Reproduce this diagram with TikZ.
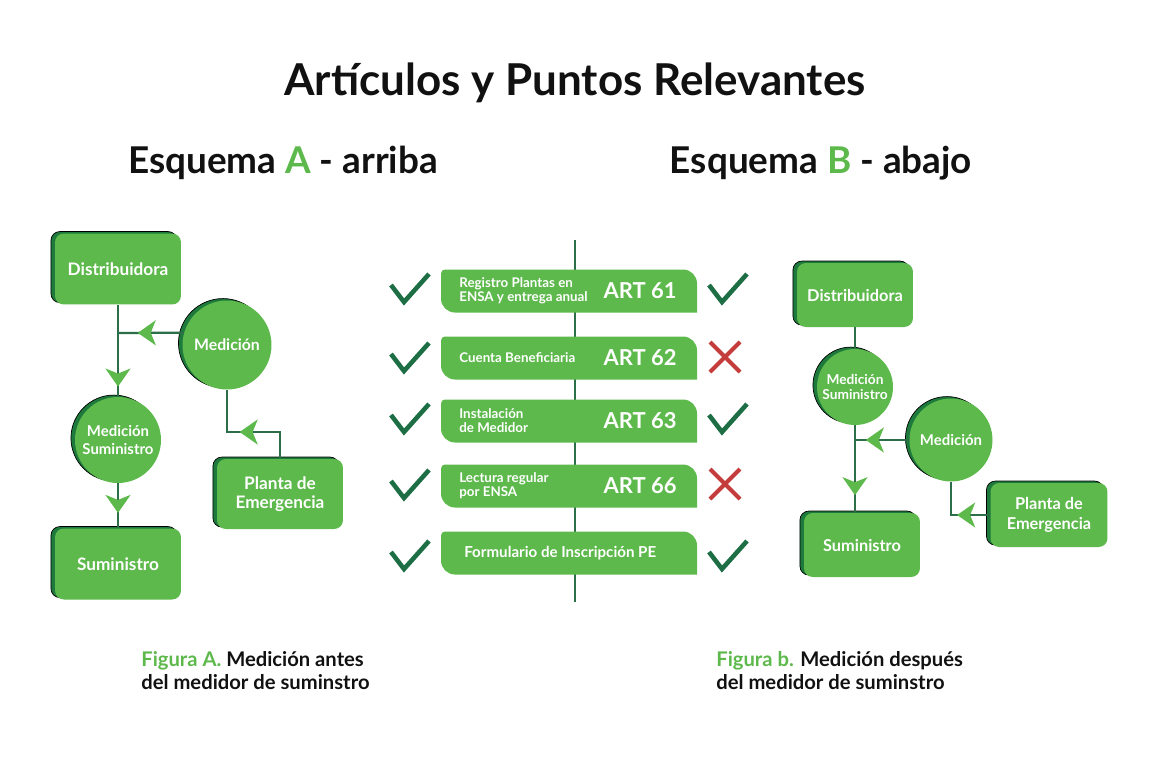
\documentclass[tikz,border=0pt]{standalone}
\usepackage{fontspec}
\setmainfont{Lato}
\usetikzlibrary{shapes, arrows.meta, shadows, decorations.markings}
\definecolor{verde}{HTML}{5DB94B}
\definecolor{sombra}{HTML}{1E7A3C}
\definecolor{linea}{HTML}{2B6E48}
\definecolor{verdeoscuro}{HTML}{1E6E45}
\definecolor{rojo}{HTML}{C43C3C}
\definecolor{negro}{HTML}{111111}
\tikzstyle{caja} = [rectangle, fill=verde, rounded corners=5pt, text=white, align=center, font=\bfseries\fontsize{9.8}{11}\selectfont, copy shadow={shadow xshift=-2.3pt, shadow yshift=1.1pt, fill=sombra}]
\tikzstyle{medidor} = [circle, fill=verde, text=white, align=center, inner sep=0pt, font=\bfseries\fontsize{8.5}{10}\selectfont, copy shadow={shadow xshift=-2.3pt, shadow yshift=1.1pt, fill=sombra}]
\tikzstyle{conector} = [draw=linea, line width=1.3pt]
\tikzstyle{titulo} = [anchor=base, text=negro, font=\bfseries\fontsize{25}{30}\selectfont]
\tikzstyle{subtitulo} = [anchor=base, text=negro, font=\bfseries\fontsize{21}{25}\selectfont]
\tikzstyle{textofila} = [anchor=west, text=white, align=left, inner sep=0pt, font=\bfseries\fontsize{7.6}{8}\selectfont]
\tikzstyle{articulo} = [text=white, inner sep=0pt, font=\bfseries\fontsize{12.5}{14}\selectfont]
\tikzstyle{pie} = [anchor=north west, text=negro, align=left, inner sep=0pt, font=\bfseries\fontsize{11.5}{13.2}\selectfont]
\tikzset{
  flecha/.style={postaction={decorate, decoration={markings, mark=at position #1 with {\arrow{Stealth[length=0.36cm, width=0.5cm, inset=0.1cm, color=verde]}}}}},
  visto/.pic={\draw[verdeoscuro, line width=2.6pt] (-19,-3) -- (-6,14) -- (19,-14);},
  tache/.pic={\draw[rojo, line width=2.3pt] (-15,-15) -- (15,15) (15,-15) -- (-15,15);}
}

\begin{document}
\begin{tikzpicture}[x=0.02cm, y=-0.02cm]
    \useasboundingbox (0,0) rectangle (1150,768);
    \node [titulo] (titulo) at (575,95) {Artículos y Puntos Relevantes};
    \node [subtitulo] (esqA) at (283,173) {Esquema \textcolor{verde}{A} - arriba};
    \node [subtitulo] (esqB) at (821,173) {Esquema \textcolor{verde}{B} - abajo};

    % esquema A
    \node [caja, minimum width=2.52cm, minimum height=1.42cm] (distA) at (118,269) {Distribuidora};
    \node [medidor, minimum size=1.78cm, font=\bfseries\fontsize{9}{10}\selectfont] (medA) at (227,345) {Medición};
    \node [medidor, minimum size=1.72cm] (msA) at (118,440) {Medición\\Suministro};
    \node [caja, minimum width=2.52cm, minimum height=1.42cm] (sumA) at (118,564) {Suministro};
    \node [caja, minimum width=2.52cm, minimum height=1.40cm] (plA) at (280,494) {Planta de\\Emergencia};
    \coordinate (unionA) at (118,333);
    \coordinate (codoA) at (227,432);

    \path [conector, flecha=0.89] (distA) -- (msA);
    \path [conector, flecha=0.7] (medA.164) -- (unionA);
    \path [conector, flecha=0.66] (msA) -- (sumA);
    \path [conector, flecha=1.34cm] (plA.north) |- (codoA) -- (medA.south);

    % articulos
    \coordinate (ejeArriba) at (575,240);
    \coordinate (ejeAbajo) at (575,602);
    \path [conector] (ejeArriba) -- (ejeAbajo);
    \foreach \y in {291,358,421,486,553}
        \fill [verde] (445,\y-21.5) -- (683,\y-21.5) arc[start angle=90, end angle=0, radius=0.28cm]
            -- (697,\y+21.5) -- (455,\y+21.5) arc[start angle=270, end angle=180, radius=0.28cm]
            -- (441,\y-17.5) arc[start angle=180, end angle=90, radius=0.08cm] -- cycle;
    \foreach \y/\txt/\art [count=\i] in {291/{Registro Plantas en\\ENSA y entrega anual}/ART 61,
        358/{Cuenta Beneficiaria}/ART 62, 421/{Instalación\\de Medidor}/ART 63, 486/{Lectura regular\\por ENSA}/ART 66} {
        \node [textofila] (txt\i) at (459,\y) {\txt};
        \node [articulo] (art\i) at (640,\y) {\art};
    }
    \node [textofila, font=\bfseries\fontsize{8.6}{10}\selectfont] (txt5) at (464,553) {Formulario de Inscripción PE};
    \foreach \y in {288,357,418,484,555}
        \pic at (410,\y) {visto};
    \pic at (728,288) {visto};
    \pic at (725,357) {tache};
    \pic at (728,418) {visto};
    \pic at (725,484) {tache};
    \pic at (728,555) {visto};

    % esquema B
    \node [caja, minimum width=2.32cm, minimum height=1.28cm, font=\bfseries\fontsize{9.3}{11}\selectfont] (distB) at (855,295) {Distribuidora};
    \node [medidor, minimum size=1.52cm, font=\bfseries\fontsize{7.8}{9}\selectfont] (msB) at (855,387) {Medición\\Suministro};
    \node [medidor, minimum size=1.66cm] (medB) at (951,440) {Medición};
    \node [caja, minimum width=2.32cm, minimum height=1.28cm, font=\bfseries\fontsize{9.3}{11}\selectfont] (sumB) at (862,545) {Suministro};
    \node [caja, minimum width=2.34cm, minimum height=1.28cm, font=\bfseries\fontsize{9.3}{11}\selectfont] (plB) at (1049,515) {Planta de\\Emergencia};
    \coordinate (unionB) at (855,440);

    \path [conector] (distB) -- (msB);
    \path [conector, flecha=0.8] (msB) -- (msB |- sumB.north);
    \path [conector, flecha=0.8] (medB.west) -- (unionB);
    \path [conector, flecha=0.66cm] (plB.west) -| (medB.south);

    % pies de figura
    \node [pie] (pieA) at (141,651) {\textcolor{verde}{Figura A.} Medición antes\\del medidor de suminstro};
    \node [pie] (pieB) at (716,651) {\textcolor{verde}{Figura b.} Medición después\\del medidor de suminstro};
\end{tikzpicture}
\end{document}
